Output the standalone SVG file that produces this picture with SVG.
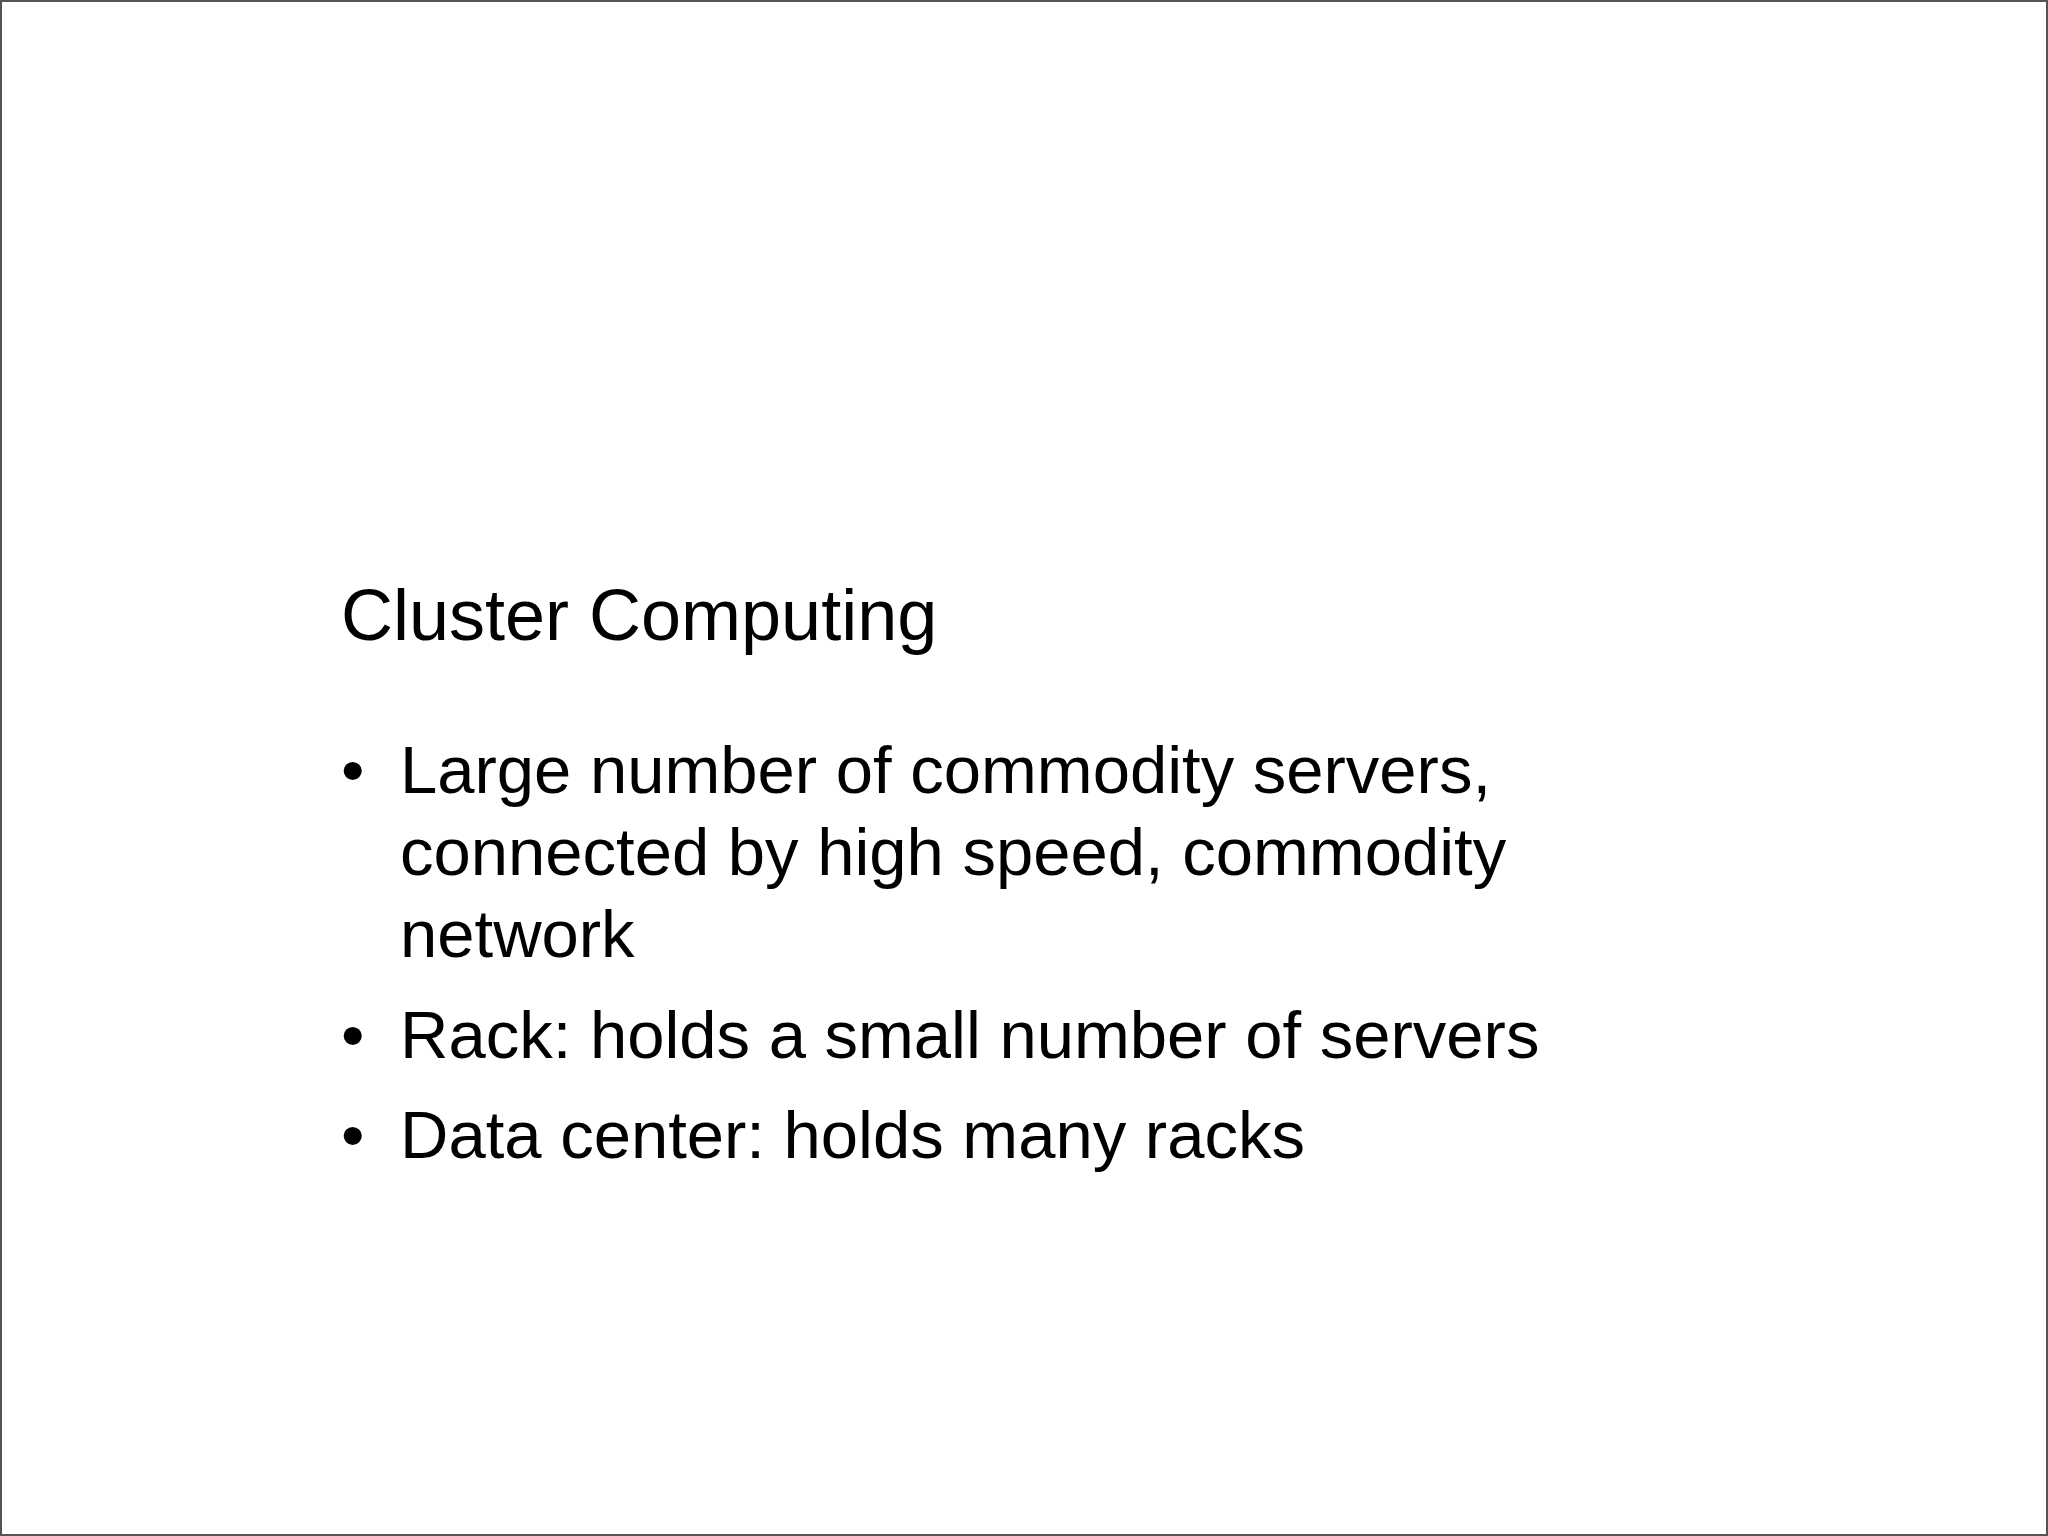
<svg xmlns="http://www.w3.org/2000/svg" width="2048" height="1536" viewBox="0 0 2048 1536">
<style>
text{font-family:"Liberation Sans",Arial,sans-serif;fill:#000}
.t{font-size:72px}
.b{font-size:67px}
</style>
<rect x="0" y="0" width="2048" height="1536" fill="#fff"/>
<rect x="1" y="1" width="2046" height="1534" fill="none" stroke="#555" stroke-width="2"/>
<g id="title"><text class="t" x="341" y="640">Cluster Computing</text></g>
<g id="bullets">
<text class="b" x="341" y="793">•</text>
<text class="b" x="400" y="793">Large number of commodity servers,</text>
<text class="b" x="400" y="875">connected by high speed, commodity</text>
<text class="b" x="400" y="957">network</text>
<text class="b" x="341" y="1058">•</text>
<text class="b" x="400" y="1058">Rack: holds a small number of servers</text>
<text class="b" x="341" y="1158">•</text>
<text class="b" x="400" y="1158">Data center: holds many racks</text>
</g>
</svg>
